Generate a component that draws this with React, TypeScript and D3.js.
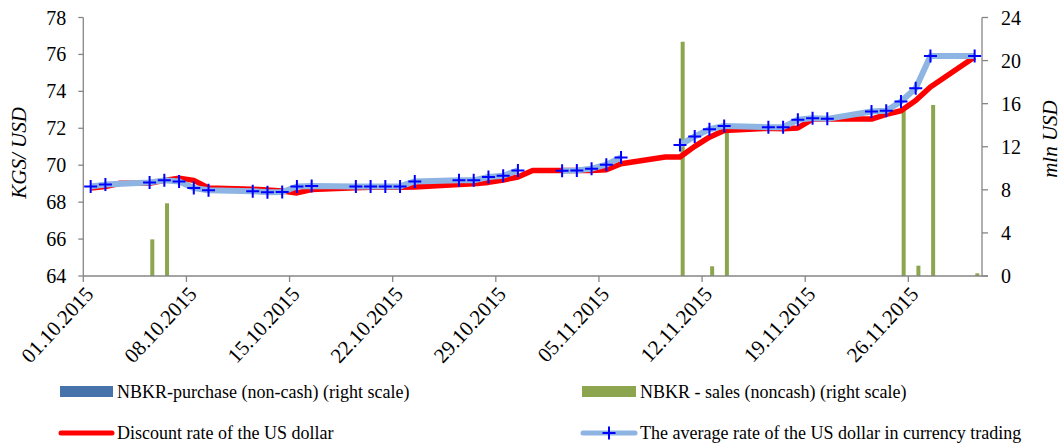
import React from "react";
import * as d3 from "d3";

// ---------- DATA ----------
const blueDates = ["01.10.2015","02.10.2015","05.10.2015","06.10.2015","07.10.2015","08.10.2015","09.10.2015","12.10.2015","13.10.2015","14.10.2015","15.10.2015","16.10.2015","19.10.2015","20.10.2015","21.10.2015","22.10.2015","23.10.2015","26.10.2015","27.10.2015","28.10.2015","29.10.2015","30.10.2015","31.10.2015","02.11.2015","03.11.2015","04.11.2015","05.11.2015","06.11.2015","09.11.2015","10.11.2015","11.11.2015","12.11.2015","13.11.2015","16.11.2015","17.11.2015","18.11.2015","19.11.2015","20.11.2015","23.11.2015","24.11.2015","25.11.2015","26.11.2015","27.11.2015","30.11.2015"];
const blueValues: (number | null)[] = [68.85,68.95,69.07,69.18,69.12,68.77,68.64,68.59,68.53,68.55,68.85,68.88,68.85,68.85,68.85,68.85,69.12,69.18,69.18,69.36,69.43,69.72,null,69.7,69.72,69.81,70.03,70.42,null,71.1,71.56,71.95,72.13,72.06,72.06,72.46,72.55,72.51,72.91,72.95,73.45,74.17,75.92,75.92];

const redDates = ["01.10.2015","02.10.2015","03.10.2015","05.10.2015","06.10.2015","07.10.2015","08.10.2015","09.10.2015","12.10.2015","13.10.2015","14.10.2015","15.10.2015","16.10.2015","19.10.2015","20.10.2015","21.10.2015","22.10.2015","23.10.2015","26.10.2015","27.10.2015","28.10.2015","29.10.2015","30.10.2015","31.10.2015","02.11.2015","03.11.2015","04.11.2015","05.11.2015","06.11.2015","09.11.2015","10.11.2015","11.11.2015","12.11.2015","13.11.2015","16.11.2015","17.11.2015","18.11.2015","19.11.2015","20.11.2015","23.11.2015","24.11.2015","25.11.2015","26.11.2015","27.11.2015","30.11.2015"];
const redValues = [68.77,68.85,69.02,69.02,69.18,69.3,69.18,68.77,68.7,68.66,68.6,68.5,68.68,68.78,68.8,68.8,68.8,68.82,68.95,69.0,69.07,69.2,69.36,69.72,69.72,69.72,69.72,69.75,70.08,70.44,70.44,71.02,71.52,71.88,72.0,71.98,72.02,72.5,72.5,72.5,72.75,72.95,73.5,74.24,75.86];

const salesDates = ["05.10.2015","06.10.2015","10.11.2015","12.11.2015","13.11.2015","25.11.2015","26.11.2015","27.11.2015","30.11.2015"];
const salesValues = [3.4,6.75,21.75,0.9,13.34,15.6,0.96,15.88,0.25];

const purchaseDates: string[] = [];
const purchaseValues: number[] = [];

const xTickDates = ["01.10.2015","08.10.2015","15.10.2015","22.10.2015","29.10.2015","05.11.2015","12.11.2015","19.11.2015","26.11.2015"];
const leftTicks = [64,66,68,70,72,74,76,78];
const rightTicks = [0,4,8,12,16,20,24];

const legendLabels = [
  "NBKR-purchase (non-cash) (right scale)",
  "NBKR - sales (noncash) (right scale)",
  "Discount rate of the US dollar",
  "The average rate of the US dollar in currency trading",
];

// ---------- LAYOUT ----------
const W = 1062, H = 443;
const X0 = 83.3, X1 = 982, YT = 17.5, YB = 276;
const FONT = "'Liberation Serif', 'Times New Roman', serif";
const AXIS = "#868686";
const RED = "#ff0000";
const LBLUE = "#8db4e2";
const MBLUE = "#0000ff";
const GREEN = "#8da54f";
const DBLUE = "#4674aa";

const parse = d3.timeParse("%d.%m.%Y");
const fmt = d3.timeFormat("%d.%m.%Y");

export default function App() {
  const x = d3.scaleTime().domain([parse("01.10.2015")!, parse("01.12.2015")!]).range([X0, X1]);
  const yL = d3.scaleLinear().domain([64, 78]).range([YB, YT]);
  const yR = d3.scaleLinear().domain([0, 24]).range([YB, YT]);
  const half = (X1 - X0) / 61 / 2;
  const cx = (s: string) => x(parse(s)!) + half;

  const blue = blueDates.map((d, i) => ({ x: cx(d), v: blueValues[i] }));
  const red = redDates.map((d, i) => ({ x: cx(d), v: redValues[i] }));

  const line = d3.line<{ x: number; v: number | null }>()
    .defined((d) => d.v != null)
    .x((d) => d.x)
    .y((d) => yL(d.v as number));

  const barW = 4;
  const barOff = 2.7;

  const cross = (px: number, py: number, k: string | number) => (
    <path key={k} d={`M${px - 6.5},${py}H${px + 6.5}M${px},${py - 6.5}V${py + 6.5}`} stroke={MBLUE} strokeWidth={2} fill="none" />
  );

  return (
    <svg width={W} height={H} style={{ position: "absolute", left: 0, top: 0, background: "#fff" }} fontFamily={FONT}>
      {/* bars */}
      {purchaseDates.map((d, i) => (
        <rect key={"p" + i} x={cx(d) - barOff - barW / 2} y={yR(purchaseValues[i])} width={barW} height={YB - yR(purchaseValues[i])} fill={DBLUE} />
      ))}
      {salesDates.map((d, i) => (
        <rect key={"s" + i} x={cx(d) + barOff - barW / 2} y={yR(salesValues[i])} width={barW} height={YB - yR(salesValues[i])} fill={GREEN} />
      ))}

      {/* axes */}
      <line x1={X0} x2={X0} y1={YT} y2={YB} stroke={AXIS} strokeWidth={1.3} />
      <line x1={X1} x2={X1} y1={YT} y2={YB} stroke={AXIS} strokeWidth={1.3} />
      <line x1={X0} x2={X1 + 6} y1={YB} y2={YB} stroke={AXIS} strokeWidth={1.3} />
      {leftTicks.map((t) => (
        <g key={"l" + t}>
          <line x1={X0 - 5} x2={X0} y1={yL(t)} y2={yL(t)} stroke={AXIS} strokeWidth={1.3} />
          <text x={X0 - 17} y={yL(t)} dy="0.35em" textAnchor="end" fontSize={20}>{t}</text>
        </g>
      ))}
      {rightTicks.map((t) => (
        <g key={"r" + t}>
          <line x1={X1} x2={X1 + 6} y1={yR(t)} y2={yR(t)} stroke={AXIS} strokeWidth={1.3} />
          <text x={X1 + 19} y={yR(t)} dy="0.35em" textAnchor="start" fontSize={20}>{t}</text>
        </g>
      ))}
      {xTickDates.map((s) => {
        const tx = x(parse(s)!);
        return (
          <g key={"x" + s}>
            <line x1={tx} x2={tx} y1={YB} y2={YB + 6} stroke={AXIS} strokeWidth={1.3} />
            <text transform={`translate(${tx + 6},${YB + 14}) rotate(-47)`} dy="0.35em" textAnchor="end" fontSize={21}>{fmt(parse(s)!)}</text>
          </g>
        );
      })}

      {/* axis titles */}
      <text transform={`translate(26,153) rotate(-90)`} textAnchor="middle" fontSize={21} fontStyle="italic">KGS/ USD</text>
      <text transform={`translate(1057,139) rotate(-90)`} textAnchor="middle" fontSize={21} fontStyle="italic">mln USD</text>

      {/* lines */}
      <path d={line(red) || ""} fill="none" stroke={RED} strokeWidth={5.5} strokeLinejoin="round" />
      <path d={line(blue) || ""} fill="none" stroke={LBLUE} strokeWidth={6} strokeLinejoin="round" />
      {blue.filter((d) => d.v != null).map((d, i) => cross(d.x, yL(d.v as number), "c" + i))}

      {/* legend */}
      <rect x={60} y={386} width={53} height={11} fill={DBLUE} />
      <text x={117} y={391.5} dy="0.35em" fontSize={18}>{legendLabels[0]}</text>
      <rect x={582} y={386} width={54} height={11} fill={GREEN} />
      <text x={640} y={391.5} dy="0.35em" fontSize={18}>{legendLabels[1]}</text>
      <line x1={61} x2={112} y1={433} y2={433} stroke={RED} strokeWidth={5} strokeLinecap="round" />
      <text x={117} y={433} dy="0.35em" fontSize={18}>{legendLabels[2]}</text>
      <line x1={583} x2={635} y1={433} y2={433} stroke={LBLUE} strokeWidth={5} strokeLinecap="round" />
      {cross(609, 433, "lg")}
      <text x={640} y={433} dy="0.35em" fontSize={18}>{legendLabels[3]}</text>
    </svg>
  );
}
